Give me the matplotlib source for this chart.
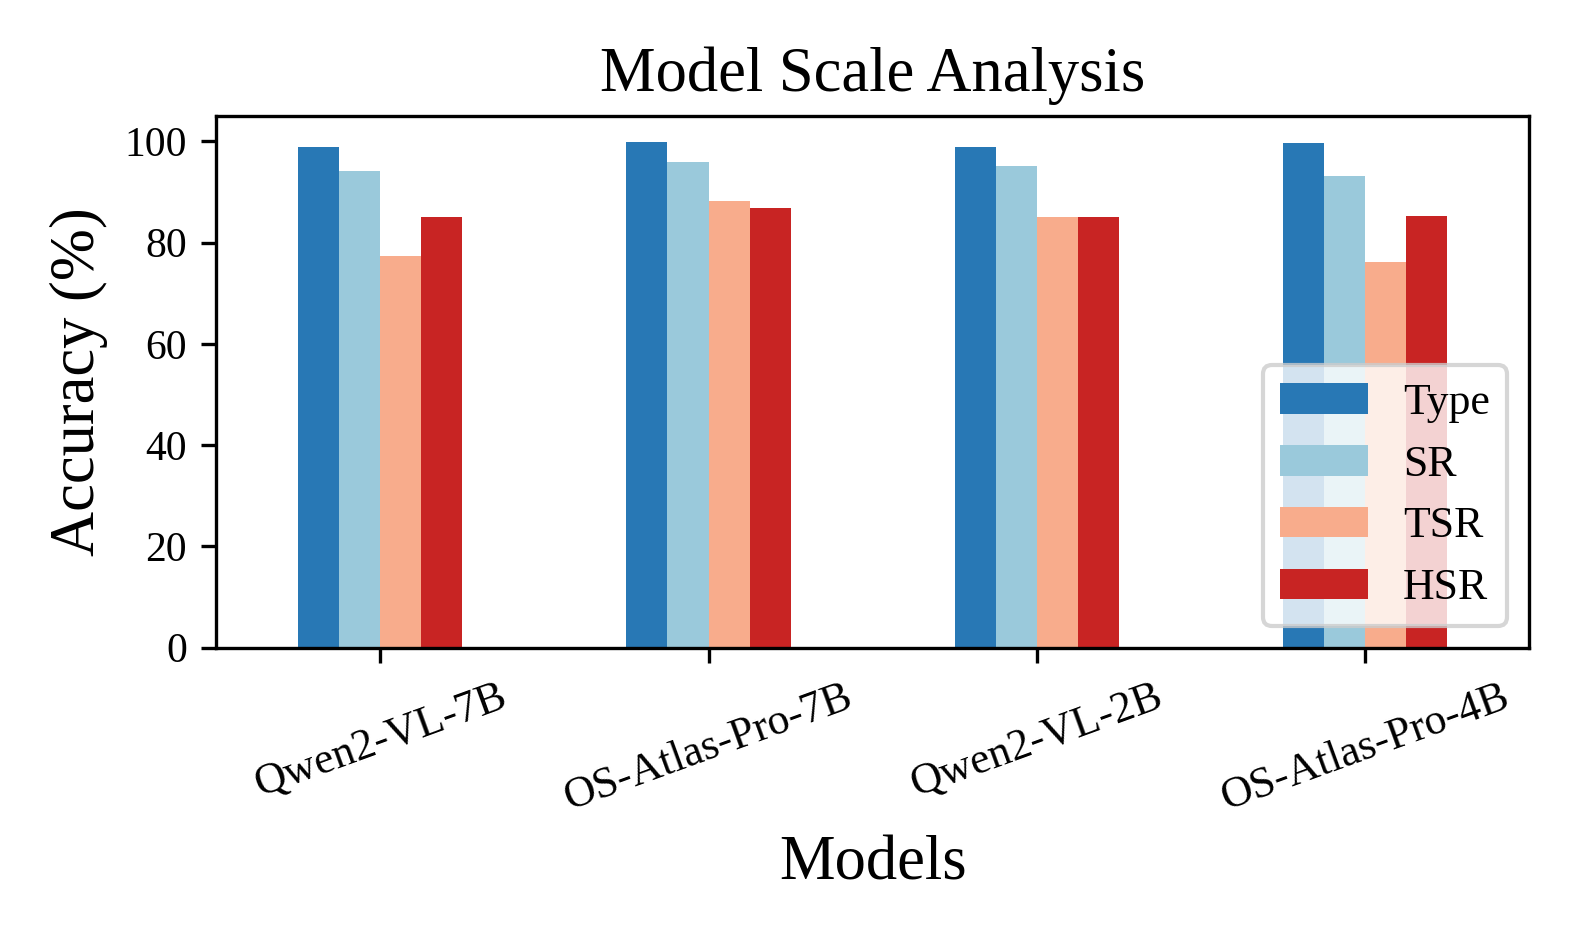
import pandas as pd
import matplotlib
matplotlib.use("Agg")
import matplotlib.pyplot as plt

plt.rcParams['font.family'] = ['Liberation Serif', 'DejaVu Serif']

# values
models = ['Qwen2-VL-7B', 'OS-Atlas-Pro-7B', 'Qwen2-VL-2B', 'OS-Atlas-Pro-4B']
type_acc = [98.9, 99.9, 98.9, 99.7]
sr = [94.1, 95.9, 95.1, 93.1]
tsr = [77.4, 88.2, 85.0, 76.2]
hsr = [85.1, 86.8, 85.0, 85.3]

colors = ['#2878b5', '#9ac9db', '#f8ac8c', '#c82423']

df = pd.DataFrame({'Type': type_acc, 'SR': sr, 'TSR': tsr, 'HSR': hsr}, index=models)

fig, ax = plt.subplots(figsize=(1578 / 300, 947 / 300), dpi=300)
df.plot.bar(ax=ax, color=colors, rot=20)
ax.tick_params(axis='y', labelsize=10)
ax.tick_params(axis='x', labelsize=10.5)
ax.set_title('Model Scale Analysis', fontsize=15)
ax.set_xlabel('Models', fontsize=15)
ax.set_ylabel('Accuracy (%)', fontsize=15)
ax.legend(loc='lower right', fontsize=10.5)
fig.subplots_adjust(left=0.137, right=0.969, top=0.877, bottom=0.316)
fig.savefig('out.png', dpi=300)
